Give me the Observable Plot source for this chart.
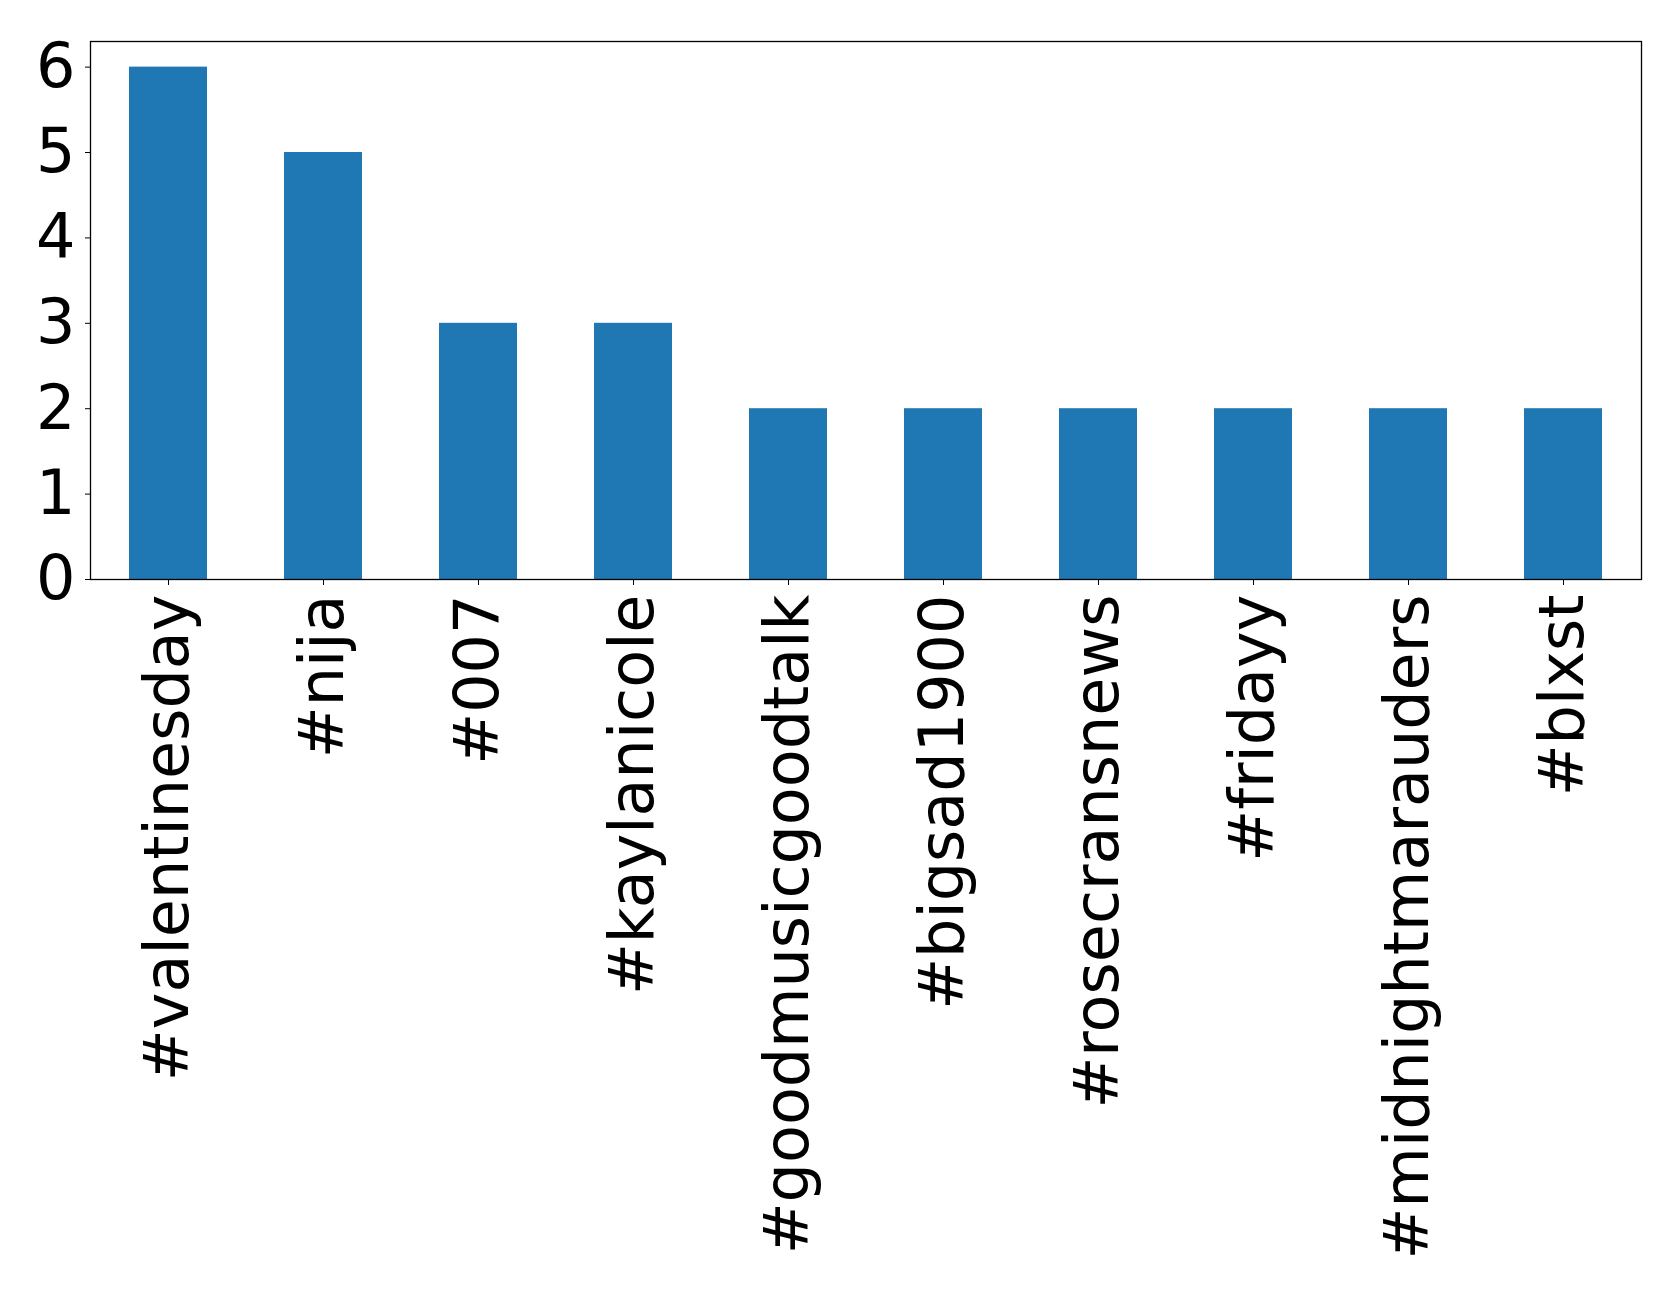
<!DOCTYPE html>
<html>
<head>
<meta charset="utf-8">
<script src="https://cdn.jsdelivr.net/npm/d3@7"></script>
<script src="https://cdn.jsdelivr.net/npm/@observablehq/plot@0.6"></script>
<style>
  html, body { margin: 0; padding: 0; background: #fff; }
  #chart svg { display: block; }
</style>
</head>
<body>
<div id="chart"></div>
<script>
const hashtags = ["#valentinesday", "#nija", "#007", "#kaylanicole", "#goodmusicgoodtalk", "#bigsad1900", "#rosecransnews", "#fridayy", "#midnightmarauders", "#blxst"];
const counts = [6, 5, 3, 3, 2, 2, 2, 2, 2, 2];
const yTicks = [0, 1, 2, 3, 4, 5, 6];

const data = hashtags.map((h, i) => ({tag: h, count: counts[i]}));

const chart = Plot.plot({
  width: 1679,
  height: 1298,
  marginLeft: 90,
  marginRight: 38,
  marginTop: 41,
  marginBottom: 719,
  style: {fontFamily: "DejaVu Sans", background: "#fff", color: "#000"},
  x: {domain: hashtags, paddingInner: 0.5, paddingOuter: 0.25, label: null},
  y: {domain: [0, 6.3], label: null},
  marks: [
    Plot.barY(data, {x: "tag", y: "count", fill: "#1f77b4"}),
    Plot.frame({stroke: "#000", strokeWidth: 1.3}),
    Plot.axisY({ticks: yTicks, tickSize: 5, tickPadding: 10, fontSize: 62, label: null, tickFormat: d3.format("d")}),
    Plot.axisX({tickSize: 6, tickPadding: 9, tickRotate: -90, fontSize: 62, label: null})
  ]
});
document.getElementById("chart").appendChild(chart);
</script>
</body>
</html>
